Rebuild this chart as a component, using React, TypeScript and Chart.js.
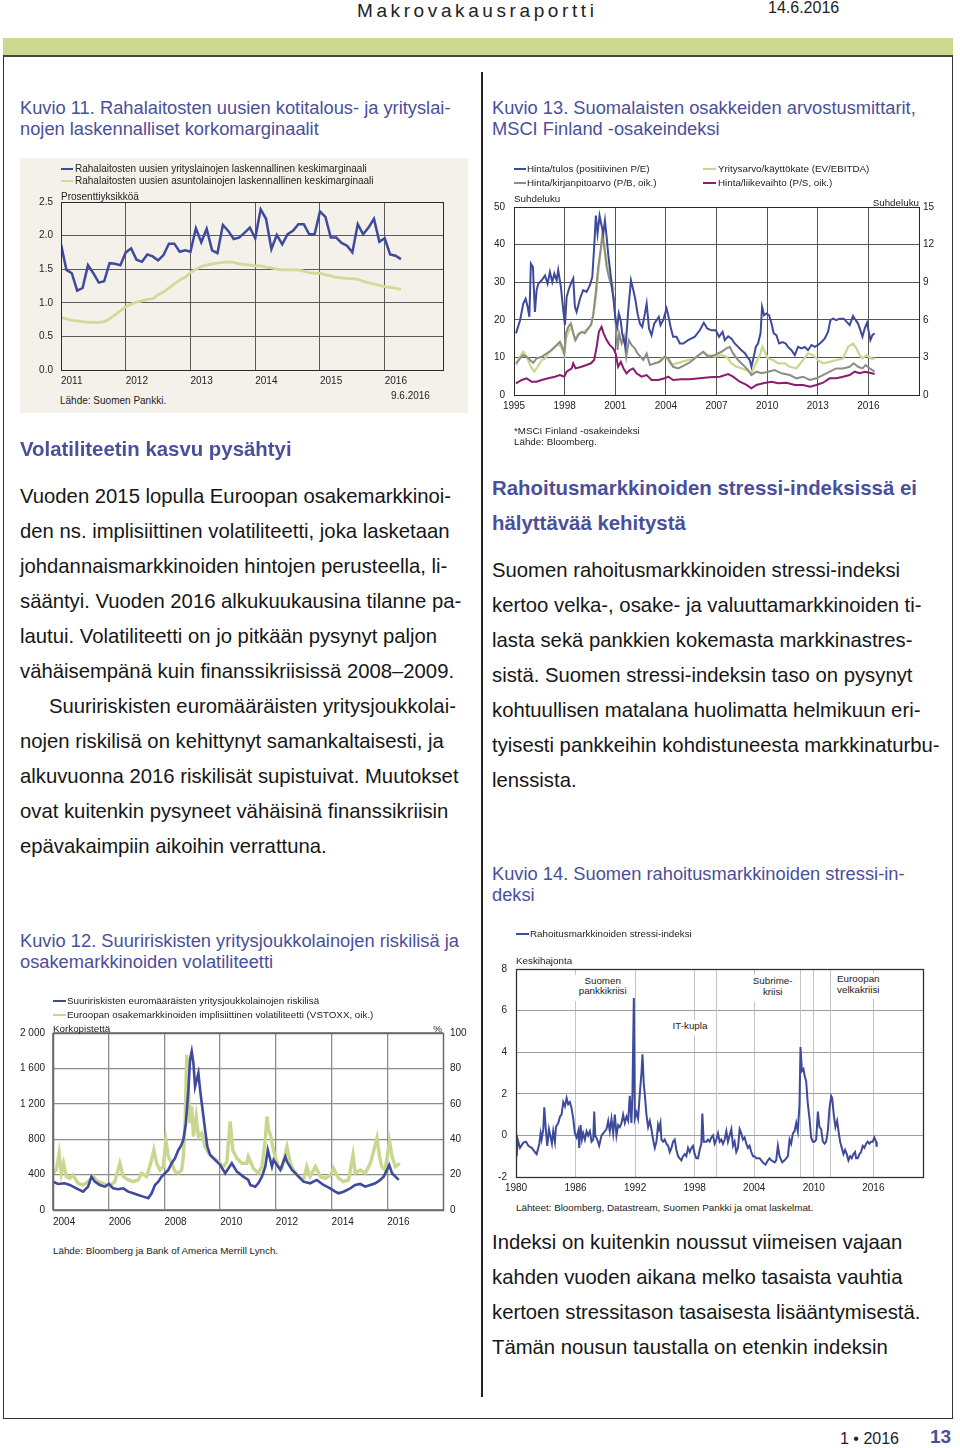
import React, { useEffect, useRef } from "react";
import { Chart, registerables } from "chart.js";

Chart.register(...registerables);

const FONT = '"Liberation Sans", Arial, Helvetica, sans-serif';
const BLUE = "#3e4a9b";
const GREEN = "#c9d78e";
const GRAY = "#8d8d85";
const MAGENTA = "#8c1c6e";
const TITLE_BLUE = "#4a4f9c";
const INK = "#161616";

// ---------------- Kuvio 11 ----------------
const k11Start = 2011;
const k11YearTicks = [2011, 2012, 2013, 2014, 2015, 2016];
const k11ValueTicks = [0, 0.5, 1, 1.5, 2, 2.5];
const k11Corporate = [
  1.87, 1.49, 1.44, 1.18, 1.22, 1.56, 1.44, 1.3, 1.32, 1.59, 1.58, 1.56,
  1.75, 1.81, 1.64, 1.61, 1.72, 1.69, 1.63, 1.71, 1.88, 1.88, 1.76, 1.78,
  1.76, 2.11, 1.9, 2.1, 1.78, 1.74, 2.16, 2.07, 1.95, 1.97, 2.04, 2.12,
  1.96, 2.39, 2.25, 1.8, 2.01, 1.87, 2.02, 2.07, 2.17, 2.17, 2.02, 2.02,
  2.36, 2.28, 1.97, 1.97, 1.89, 1.85, 1.75, 2.17, 2.02, 2.12, 2.25, 1.91,
  1.96, 1.72, 1.7, 1.65,
];
const k11Housing = [
  0.78, 0.76, 0.74, 0.73, 0.72, 0.71, 0.71, 0.71, 0.72, 0.76, 0.82, 0.88,
  0.94, 0.98, 1.01, 1.03, 1.05, 1.06, 1.12, 1.16, 1.22, 1.28, 1.34, 1.38,
  1.45, 1.5, 1.54, 1.56, 1.58, 1.59, 1.6, 1.61, 1.6, 1.58, 1.57, 1.56,
  1.55, 1.55, 1.53, 1.52, 1.5, 1.49, 1.49, 1.49, 1.49, 1.47, 1.45, 1.44,
  1.44, 1.42, 1.4, 1.38, 1.37, 1.36, 1.36, 1.35, 1.32, 1.3, 1.28, 1.26,
  1.24, 1.23, 1.22, 1.2,
];

// ---------------- Kuvio 13 ----------------
const k13YearTicks = [1995, 1998, 2001, 2004, 2007, 2010, 2013, 2016];
const k13LeftTicks = [0, 10, 20, 30, 40, 50];
const k13RightTicks = [0, 3, 6, 9, 12, 15];
const k13PriceEarnings = [
  [1995.12, 16.4], [1995.36, 19.9], [1995.55, 24.3], [1995.69, 25.6], [1995.81, 23.4], [1995.91, 20.8],
  [1996.0, 34.9], [1996.12, 34.0], [1996.24, 22.1], [1996.34, 27.9], [1996.44, 29.6], [1996.64, 30.5],
  [1996.84, 31.8], [1996.99, 29.6], [1997.13, 32.7], [1997.27, 30.0], [1997.39, 32.3], [1997.53, 30.5],
  [1997.62, 33.2], [1997.78, 28.7], [1997.92, 22.5], [1998.02, 18.6], [1998.12, 26.1], [1998.26, 28.3],
  [1998.37, 29.6], [1998.51, 31.0], [1998.61, 23.4], [1998.71, 22.1], [1998.91, 25.6], [1999.1, 27.9],
  [1999.3, 27.4], [1999.5, 29.2], [1999.64, 31.4], [1999.75, 39.3], [1999.85, 47.7], [1999.95, 42.9],
  [2000.07, 47.7], [2000.19, 45.1], [2000.29, 42.9], [2000.39, 46.4], [2000.49, 42.0], [2000.58, 37.6],
  [2000.74, 31.4], [2000.88, 26.1], [2001.02, 19.9], [2001.12, 18.1], [2001.21, 21.7], [2001.32, 19.9],
  [2001.41, 16.4], [2001.51, 14.6], [2001.61, 12.8], [2001.77, 22.5], [2001.93, 30.5], [2002.07, 27.9],
  [2002.2, 25.2], [2002.32, 21.7], [2002.46, 19.0], [2002.6, 18.1], [2002.76, 21.7], [2002.86, 24.3],
  [2003.0, 17.7], [2003.15, 15.9], [2003.31, 19.0], [2003.45, 19.9], [2003.58, 20.8], [2003.68, 18.6],
  [2003.84, 19.9], [2004.04, 23.0], [2004.14, 21.2], [2004.28, 18.1], [2004.43, 15.5], [2004.63, 15.5],
  [2004.83, 13.7], [2005.03, 13.7], [2005.32, 14.6], [2005.72, 15.5], [2006.01, 17.2], [2006.25, 19.2],
  [2006.45, 17.7], [2006.7, 17.2], [2006.96, 17.2], [2007.15, 15.5], [2007.36, 16.8], [2007.49, 14.6],
  [2007.69, 15.6], [2007.89, 15.0], [2008.08, 13.7], [2008.28, 12.8], [2008.48, 11.9], [2008.68, 11.1],
  [2008.81, 10.2], [2008.97, 9.3], [2009.07, 7.5], [2009.21, 10.2], [2009.33, 12.8], [2009.46, 13.7],
  [2009.61, 16.4], [2009.7, 23.4], [2009.82, 21.2], [2009.96, 21.7], [2010.12, 21.2], [2010.26, 19.0],
  [2010.39, 16.4], [2010.55, 15.9], [2010.71, 13.7], [2010.91, 14.1], [2011.1, 13.7], [2011.24, 12.8],
  [2011.44, 11.9], [2011.64, 10.6], [2011.83, 12.8], [2012.03, 12.4], [2012.23, 12.8], [2012.42, 11.9],
  [2012.63, 13.3], [2012.82, 12.8], [2013.02, 13.3], [2013.22, 14.1], [2013.41, 15.0], [2013.61, 16.8],
  [2013.75, 19.9], [2013.91, 20.3], [2014.1, 19.9], [2014.3, 20.3], [2014.54, 20.3], [2014.73, 19.4],
  [2014.89, 18.6], [2015.09, 21.0], [2015.25, 19.9], [2015.39, 19.0], [2015.53, 17.2], [2015.65, 15.5],
  [2015.78, 17.7], [2015.92, 19.2], [2016.04, 16.4], [2016.12, 14.6], [2016.24, 15.9], [2016.37, 16.4],
];
const k13EvEbitda = [
  [1995.12, 8.0], [1995.36, 10.2], [1995.55, 11.5], [1995.75, 10.2], [1996.0, 7.5], [1996.2, 6.2],
  [1996.4, 7.5], [1996.64, 9.3], [1996.84, 9.7], [1997.03, 11.1], [1997.33, 12.4], [1997.62, 13.7],
  [1997.82, 12.5], [1997.98, 10.6], [1998.08, 15.0], [1998.22, 16.8], [1998.42, 18.1], [1998.61, 14.6],
  [1998.81, 16.4], [1999.1, 16.8], [1999.4, 17.7], [1999.6, 19.0], [1999.75, 22.5], [1999.9, 27.9],
  [2000.03, 34.0], [2000.19, 40.2], [2000.29, 42.4], [2000.39, 38.5], [2000.55, 34.0], [2000.68, 32.3],
  [2000.82, 29.6], [2000.94, 27.9], [2002.0, null], [2003.5, 8.4], [2003.74, 9.7], [2003.94, 10.2],
  [2004.14, 9.3], [2004.33, 8.0], [2004.63, 8.4], [2004.93, 8.8], [2005.32, 9.3], [2005.62, 9.5],
  [2005.82, 10.2], [2006.21, 11.5], [2006.5, 10.6], [2006.9, 10.2], [2007.3, 10.6], [2007.59, 10.2],
  [2007.89, 8.4], [2008.18, 7.5], [2008.48, 7.1], [2008.78, 6.6], [2009.07, 5.8], [2009.33, 8.4],
  [2009.57, 10.6], [2009.72, 12.8], [2009.86, 11.5], [2010.06, 9.7], [2010.35, 9.3], [2010.65, 8.4],
  [2011.05, 8.4], [2011.34, 7.5], [2011.74, 7.1], [2012.13, 9.3], [2012.42, 11.1], [2012.72, 10.6],
  [2013.02, 9.3], [2013.31, 8.4], [2013.71, 8.8], [2014.1, 9.3], [2014.5, 9.7], [2014.8, 12.8],
  [2015.09, 13.7], [2015.29, 12.4], [2015.49, 10.6], [2015.65, 9.7], [2015.89, 10.6], [2016.18, 9.7],
  [2016.37, 9.7],
];
const k13PriceBook = [
  [1995.12, 2.53], [1995.36, 2.92], [1995.55, 3.19], [1995.75, 3.05], [1995.95, 2.79], [1996.14, 2.57],
  [1996.34, 2.92], [1996.64, 3.05], [1996.94, 3.32], [1997.23, 3.59], [1997.53, 3.98], [1997.72, 4.25],
  [1997.86, 3.85], [1997.98, 3.32], [1998.08, 4.92], [1998.22, 5.44], [1998.37, 5.71], [1998.51, 4.92],
  [1998.65, 4.38], [1998.81, 4.78], [1999.0, 5.04], [1999.2, 4.92], [1999.4, 5.31], [1999.56, 5.58],
  [1999.69, 6.37], [1999.84, 8.1], [1999.99, 10.2], [2000.13, 11.55], [2000.23, 12.75], [2000.35, 11.8],
  [2000.49, 10.2], [2000.62, 9.43], [2000.78, 8.63], [2000.94, 7.57], [2001.06, 4.92], [2001.14, 3.59],
  [2001.23, 4.92], [2001.38, 4.12], [2001.51, 4.65], [2001.65, 3.05], [2001.81, 4.38], [2001.97, 3.98],
  [2002.16, 3.72], [2002.32, 3.32], [2002.5, 3.05], [2002.66, 2.79], [2002.86, 3.32], [2003.05, 2.39],
  [2003.35, 2.53], [2003.64, 2.65], [2003.94, 3.05], [2004.14, 2.92], [2004.43, 2.25], [2004.73, 2.12],
  [2005.12, 2.39], [2005.42, 2.6], [2005.82, 3.05], [2006.21, 3.45], [2006.5, 3.05], [2006.9, 3.19],
  [2007.3, 3.45], [2007.59, 3.72], [2007.79, 3.85], [2007.98, 3.32], [2008.28, 2.79], [2008.58, 2.39],
  [2008.87, 1.99], [2009.07, 1.59], [2009.37, 1.86], [2009.66, 1.73], [2010.06, 1.86], [2010.45, 1.99],
  [2010.85, 1.73], [2011.34, 1.59], [2011.74, 1.33], [2012.13, 1.46], [2012.53, 1.2], [2012.92, 1.33],
  [2013.31, 1.59], [2013.71, 1.86], [2014.1, 2.12], [2014.5, 2.12], [2014.89, 2.25], [2015.13, 2.53],
  [2015.39, 2.25], [2015.65, 2.12], [2015.84, 2.39], [2016.08, 2.12], [2016.37, 1.86],
];
const k13PriceSales = [
  [1995.12, 0.93], [1995.46, 1.2], [1995.75, 1.33], [1996.05, 1.06], [1996.34, 1.06], [1996.64, 1.2],
  [1997.03, 1.33], [1997.43, 1.46], [1997.72, 1.59], [1997.98, 1.46], [1998.12, 1.86], [1998.42, 2.12],
  [1998.51, 2.53], [1998.65, 2.12], [1999.0, 2.25], [1999.3, 2.39], [1999.56, 2.53], [1999.75, 2.79],
  [1999.9, 3.85], [2000.03, 5.04], [2000.19, 5.44], [2000.31, 4.92], [2000.49, 4.38], [2000.68, 3.98],
  [2000.88, 3.72], [2001.02, 3.32], [2001.17, 2.25], [2001.33, 2.65], [2001.49, 2.12], [2001.67, 1.73],
  [2001.87, 1.99], [2002.06, 2.12], [2002.26, 1.73], [2002.56, 1.46], [2002.86, 1.59], [2003.15, 1.2],
  [2003.54, 1.2], [2003.94, 1.33], [2004.14, 1.46], [2004.43, 1.2], [2004.93, 1.25], [2005.42, 1.25],
  [2006.01, 1.33], [2006.6, 1.41], [2007.2, 1.46], [2007.69, 1.67], [2007.98, 1.46], [2008.38, 1.06],
  [2008.78, 0.8], [2009.07, 0.53], [2009.37, 0.8], [2009.76, 0.93], [2010.26, 1.06], [2010.65, 0.93],
  [2011.15, 0.98], [2011.64, 0.8], [2012.13, 0.8], [2012.53, 0.66], [2012.92, 0.8], [2013.31, 0.98],
  [2013.71, 1.33], [2014.1, 1.33], [2014.5, 1.46], [2014.89, 1.59], [2015.19, 1.86], [2015.49, 1.73],
  [2015.78, 1.86], [2016.08, 1.78], [2016.37, 1.67],
];

// ---------------- Kuvio 12 ----------------
const k12YearTicks = [2004, 2006, 2008, 2010, 2012, 2014, 2016];
const k12LeftTicks = [0, 400, 800, 1200, 1600, 2000];
const k12RightTicks = [0, 20, 40, 60, 80, 100];
const k12HighYield = [
  [2004.0, 320], [2004.18, 294], [2004.42, 302], [2004.6, 283], [2004.84, 245], [2005.08, 207],
  [2005.26, 264], [2005.38, 377], [2005.5, 320], [2005.68, 283], [2005.86, 264], [2006.01, 294],
  [2006.16, 245], [2006.34, 234], [2006.52, 245], [2006.7, 207], [2006.88, 189], [2007.06, 170],
  [2007.24, 151], [2007.42, 132], [2007.54, 189], [2007.66, 283], [2007.78, 320], [2007.9, 377],
  [2008.02, 415], [2008.14, 453], [2008.26, 528], [2008.38, 585], [2008.5, 679], [2008.58, 717],
  [2008.68, 792], [2008.77, 981], [2008.86, 1358], [2008.92, 1698], [2008.98, 1792], [2009.04, 1660],
  [2009.1, 1396], [2009.16, 1472], [2009.22, 1547], [2009.28, 1358], [2009.37, 1132], [2009.46, 906],
  [2009.54, 717], [2009.64, 623], [2009.82, 566], [2010.0, 509], [2010.18, 415], [2010.3, 472],
  [2010.42, 528], [2010.6, 434], [2010.83, 377], [2011.01, 340], [2011.08, 283], [2011.26, 264],
  [2011.37, 302], [2011.5, 377], [2011.62, 490], [2011.71, 679], [2011.77, 604], [2011.86, 490],
  [2011.92, 566], [2012.16, 453], [2012.34, 604], [2012.4, 547], [2012.58, 453], [2012.76, 396],
  [2012.99, 320], [2013.23, 302], [2013.47, 340], [2013.71, 283], [2013.95, 245], [2014.13, 207],
  [2014.25, 189], [2014.43, 207], [2014.67, 245], [2014.85, 283], [2015.03, 294], [2015.21, 264],
  [2015.39, 283], [2015.57, 302], [2015.75, 340], [2015.87, 377], [2015.99, 453], [2016.07, 509],
  [2016.17, 415], [2016.29, 377], [2016.41, 340],
];
const k12Vstoxx = [
  [2004.0, 20.8], [2004.12, 22.6], [2004.22, 32.1], [2004.3, 20.8], [2004.38, 26.4], [2004.48, 18.9],
  [2004.6, 17.9], [2004.72, 19.8], [2004.9, 15.1], [2005.08, 14.2], [2005.26, 16], [2005.44, 18.9],
  [2005.62, 16], [2005.8, 15.1], [2006.01, 13.2], [2006.22, 16], [2006.4, 26.4], [2006.52, 18.9],
  [2006.7, 17], [2006.88, 16], [2007.06, 17], [2007.18, 20.8], [2007.36, 18.9], [2007.54, 28.3],
  [2007.62, 34], [2007.72, 26.4], [2007.84, 22.6], [2007.96, 24.5], [2008.05, 39.6], [2008.14, 30.2],
  [2008.26, 26.4], [2008.38, 21.7], [2008.5, 20.8], [2008.62, 22.6], [2008.68, 30.2], [2008.74, 49],
  [2008.8, 87.7], [2008.86, 67.9], [2008.92, 49], [2008.98, 58.5], [2009.04, 41.5], [2009.14, 52.8],
  [2009.22, 41.5], [2009.34, 43.4], [2009.46, 35.8], [2009.58, 32.1], [2009.76, 29.3], [2009.94, 27.3],
  [2010.12, 24.5], [2010.24, 27.3], [2010.36, 50], [2010.45, 34], [2010.6, 29.3], [2010.78, 26.4],
  [2010.96, 26.4], [2011.01, 30.2], [2011.19, 23.6], [2011.37, 20.8], [2011.5, 24.5], [2011.62, 39.6],
  [2011.68, 52.8], [2011.74, 45.3], [2011.82, 41.5], [2011.89, 35.8], [2011.97, 30.2], [2012.09, 24.5],
  [2012.22, 23.6], [2012.4, 35.8], [2012.52, 26.4], [2012.63, 22.6], [2012.81, 18.9], [2012.99, 17],
  [2013.11, 24.5], [2013.23, 18.9], [2013.42, 24.5], [2013.6, 18.9], [2013.78, 17.9], [2013.96, 19.8],
  [2014.07, 23.6], [2014.25, 17.9], [2014.43, 16], [2014.61, 17], [2014.77, 31.1], [2014.85, 20.8],
  [2015.03, 22.6], [2015.21, 20.8], [2015.39, 26.4], [2015.49, 32.1], [2015.63, 40.6], [2015.72, 30.2],
  [2015.8, 24.5], [2015.92, 22.6], [2016.08, 38.7], [2016.17, 30.2], [2016.29, 24.5], [2016.45, 26.4],
];

// ---------------- Kuvio 14 ----------------
const k14YearTicks = [1980, 1986, 1992, 1998, 2004, 2010, 2016];
const k14ValueTicks = [-2, 0, 2, 4, 6, 8];
const k14MarkerYears = [2000.18, 2008.56, 2011.65];
const k14Stress = [
  [1980.07, -1.0], [1980.17, -0.2], [1980.4, -0.6], [1980.74, -0.35], [1981.01, -0.3], [1981.24, -0.5],
  [1981.58, -0.6], [1981.91, -0.8], [1982.08, -0.9], [1982.35, -0.4], [1982.48, 0.1], [1982.58, -0.2],
  [1982.75, 0.3], [1982.85, 1.35], [1983.02, 0.2], [1983.15, -0.5], [1983.32, 0.3], [1983.49, -0.1],
  [1983.62, -0.4], [1983.75, 0.2], [1983.92, -0.3], [1984.02, 0.4], [1984.26, 0.6], [1984.43, 0.9],
  [1984.59, 1.0], [1984.76, 1.6], [1984.93, 1.4], [1985.1, 1.8], [1985.26, 1.5], [1985.43, 1.6],
  [1985.6, 1.3], [1985.77, 0.8], [1985.93, 0.1], [1986.1, -0.1], [1986.27, 0.2], [1986.37, -0.6],
  [1986.5, 0.5], [1986.64, -0.2], [1986.77, 0.1], [1986.94, -0.2], [1987.11, 0.2], [1987.27, 0.0],
  [1987.44, 0.2], [1987.61, -0.3], [1987.78, -0.2], [1987.88, 1.15], [1987.98, 0.0], [1988.18, -0.2],
  [1988.38, -0.5], [1988.62, 0.0], [1988.78, 0.1], [1989.12, 0.3], [1989.29, 0.7], [1989.45, 0.2],
  [1989.62, 0.8], [1989.79, 0.1], [1989.96, 1.0], [1990.12, 0.0], [1990.29, 0.5], [1990.46, 0.4],
  [1990.63, 0.6], [1990.79, 1.0], [1990.96, 0.6], [1991.13, 0.9], [1991.3, 0.7], [1991.46, 1.9],
  [1991.63, 0.6], [1991.73, 2.0], [1991.87, 6.6], [1991.97, 0.8], [1992.14, 1.1], [1992.3, 0.8],
  [1992.47, 2.0], [1992.64, 3.0], [1992.74, 3.9], [1992.87, 2.5], [1992.97, 2.0], [1993.14, 1.0],
  [1993.31, 0.4], [1993.48, 0.7], [1993.64, 0.3], [1993.81, -0.2], [1993.98, -0.6], [1994.15, -0.3],
  [1994.31, 0.5], [1994.41, 0.3], [1994.55, 0.6], [1994.65, -0.2], [1994.82, -0.3], [1994.98, -0.2],
  [1995.15, -0.4], [1995.32, -0.5], [1995.49, -0.8], [1995.66, -0.6], [1995.82, -0.3], [1995.99, -0.2],
  [1996.16, -0.7], [1996.33, -1.0], [1996.49, -1.1], [1996.66, -1.2], [1996.83, -1.0], [1997.0, -0.9],
  [1997.16, -1.0], [1997.33, -0.6], [1997.5, -0.8], [1997.67, -0.6], [1997.83, -0.5], [1998.0, -0.9],
  [1998.17, -1.1], [1998.34, -1.1], [1998.5, -0.7], [1998.67, -0.4], [1998.77, 1.05], [1998.91, -0.3],
  [1999.18, -0.3], [1999.34, -0.2], [1999.51, -0.3], [1999.68, -0.1], [1999.85, 0.0], [2000.01, -0.4],
  [2000.18, -0.2], [2000.35, 0.1], [2000.52, -0.3], [2000.68, -0.2], [2000.85, -0.4], [2001.02, -0.2],
  [2001.19, 0.2], [2001.35, -0.3], [2001.52, 0.0], [2001.69, 0.3], [2001.86, -0.5], [2002.02, -0.3],
  [2002.19, -0.8], [2002.36, -0.6], [2002.53, 0.3], [2002.69, 0.1], [2002.86, -0.2], [2003.03, -0.1],
  [2003.2, -0.4], [2003.37, -0.6], [2003.53, -0.5], [2003.7, -0.8], [2003.87, -1.0], [2004.04, -1.0],
  [2004.2, -1.1], [2004.54, -1.1], [2004.71, -1.2], [2004.87, -1.3], [2005.14, -1.4], [2005.38, -1.2],
  [2005.54, -1.1], [2005.71, -1.2], [2006.05, -1.3], [2006.21, -1.2], [2006.38, -0.5], [2006.55, -1.0],
  [2006.82, -1.3], [2007.05, -1.2], [2007.22, -1.1], [2007.39, -1.0], [2007.56, -0.2], [2007.72, -0.4],
  [2007.89, 0.1], [2008.06, 0.2], [2008.23, 0.6], [2008.39, 0.2], [2008.56, 1.5], [2008.66, 4.25],
  [2008.8, 3.1], [2008.96, 3.2], [2009.06, 2.9], [2009.23, 2.6], [2009.4, 1.5], [2009.57, 0.8],
  [2009.73, -0.1], [2009.9, -0.3], [2010.07, -0.3], [2010.24, -0.2], [2010.41, 1.15], [2010.57, 0.4],
  [2010.74, 0.3], [2010.91, -0.3], [2011.08, -0.4], [2011.24, -0.3], [2011.41, 0.2], [2011.58, 1.3],
  [2011.75, 1.9], [2011.85, 1.8], [2012.01, 1.0], [2012.18, 0.4], [2012.35, 0.7], [2012.52, 0.1],
  [2012.65, -0.3], [2012.82, -0.6], [2012.99, -0.9], [2013.15, -0.7], [2013.32, -0.9], [2013.49, -1.2],
  [2013.66, -1.0], [2013.82, -1.1], [2013.99, -0.9], [2014.16, -0.8], [2014.26, -1.1], [2014.43, -1.1],
  [2014.6, -0.9], [2014.76, -0.8], [2014.93, -0.5], [2015.1, -0.6], [2015.27, -0.4], [2015.43, -0.3],
  [2015.6, -0.4], [2015.77, -0.3], [2015.94, -0.3], [2016.1, -0.1], [2016.27, -0.3], [2016.34, -0.55],
];

// ---------------- helpers ----------------
const pairs = (arr: (number | null)[][]) => arr.map((p) => ({ x: p[0] as number, y: p[1] }));
const monthly = (start: number, arr: number[]) => arr.map((v, i) => ({ x: start + i / 12, y: v }));

const framePlugin = {
  id: "frame",
  defaults: { color: "#222", width: 1 },
  afterDatasetsDraw(chart: any, _a: any, opts: any) {
    const a = chart.chartArea;
    const ctx = chart.ctx;
    ctx.save();
    ctx.strokeStyle = opts.color;
    ctx.lineWidth = opts.width;
    const l = Math.round(a.left) + 0.5;
    const t = Math.round(a.top) + 0.5;
    const r = Math.round(a.right) + 0.5;
    const b = Math.round(a.bottom) + 0.5;
    ctx.strokeRect(l, t, r - l, b - t);
    ctx.restore();
  },
};

const markerPlugin = {
  id: "markers14",
  beforeDatasetsDraw(chart: any) {
    const xs = chart.scales.x;
    const a = chart.chartArea;
    const ctx = chart.ctx;
    ctx.save();
    ctx.strokeStyle = "#c4c4c4";
    ctx.lineWidth = 1;
    k14MarkerYears.forEach((v) => {
      const px = Math.round(xs.getPixelForValue(v)) + 0.5;
      ctx.beginPath();
      ctx.moveTo(px, a.top);
      ctx.lineTo(px, a.bottom);
      ctx.stroke();
    });
    ctx.restore();
  },
};

const tickFont = { family: FONT, size: 10 };

function xAxis(min: number, max: number, ticks: number[], o: any) {
  return {
    type: "linear",
    position: "bottom",
    min,
    max,
    afterBuildTicks: (s: any) => {
      s.ticks = ticks.map((v) => ({ value: v }));
    },
    afterFit: (s: any) => {
      s.height = o.h;
    },
    grid: { color: o.grid, lineWidth: o.gw ?? 1, drawTicks: false },
    border: { display: false },
    ticks: {
      autoSkip: false,
      maxRotation: 0,
      padding: o.pad,
      align: o.align ?? "center",
      color: "#222",
      font: tickFont,
      callback: (v: number) => String(v),
    },
  };
}

function yAxis(min: number, max: number, ticks: number[], o: any) {
  return {
    type: "linear",
    position: o.pos ?? "left",
    min,
    max,
    afterBuildTicks: (s: any) => {
      s.ticks = ticks.map((v) => ({ value: v }));
    },
    afterFit: (s: any) => {
      s.width = o.w;
    },
    grid: o.grid ? { color: o.grid, lineWidth: o.gw ?? 1, drawTicks: false } : { display: false, drawTicks: false },
    border: { display: false },
    ticks: {
      autoSkip: false,
      padding: o.pad,
      color: "#222",
      font: tickFont,
      callback: o.fmt ?? ((v: number) => String(v)),
    },
  };
}

// Chart.js reserves (half a label + tick padding) above the plot for the y-axis
// labels, so each canvas is placed that much above the wanted plot top.
const baseOptions = (padRight: number) => ({
  animation: false,
  responsive: false,
  events: [],
  layout: { padding: { top: 0, right: padRight, left: 0, bottom: 0 } },
});

const line = (data: any[], color: string, width: number, axis = "y") => ({
  data,
  borderColor: color,
  borderWidth: width,
  pointRadius: 0,
  tension: 0,
  fill: false,
  spanGaps: false,
  yAxisID: axis,
});

function buildK11(): any {
  return {
    type: "line",
    data: {
      datasets: [
        line(monthly(k11Start, k11Corporate), BLUE, 2.5),
        line(monthly(k11Start, k11Housing), "#cfdb98", 2.8),
      ],
    },
    options: {
      ...baseOptions(27),
      plugins: { legend: { display: false }, tooltip: { enabled: false }, frame: { color: "#2a2a2a", width: 1 } },
      scales: {
        x: xAxis(2011, 2016.9, k11YearTicks, { h: 25, pad: 5, align: "start", grid: "#5a5a5a" }),
        y: yAxis(0, 2.5, k11ValueTicks, { w: 41, pad: 8, grid: "#5a5a5a", fmt: (v: number) => v.toFixed(1) }),
      },
    },
    plugins: [framePlugin],
  };
}

function buildK13(): any {
  return {
    type: "line",
    data: {
      datasets: [
        line(pairs(k13PriceEarnings), BLUE, 2),
        line(pairs(k13PriceSales), MAGENTA, 2, "y2"),
        line(pairs(k13PriceBook), GRAY, 2, "y2"),
        line(pairs(k13EvEbitda), GREEN, 2.2),
      ],
    },
    options: {
      ...baseOptions(0),
      plugins: { legend: { display: false }, tooltip: { enabled: false }, frame: { color: "#2a2a2a", width: 1 } },
      scales: {
        x: xAxis(1995, 2019, k13YearTicks, { h: 20, pad: 5, grid: "#555" }),
        y: yAxis(0, 50, k13LeftTicks, { w: 24, pad: 9, grid: "#555" }),
        y2: yAxis(0, 15, k13RightTicks, { w: 33, pad: 4, pos: "right" }),
      },
    },
    plugins: [framePlugin],
  };
}

const thousands = (v: number) =>
  v >= 1000 ? `${Math.floor(v / 1000)} ${String(v % 1000).padStart(3, "0")}` : String(v);

function buildK12(): any {
  return {
    type: "line",
    data: {
      datasets: [
        line(pairs(k12HighYield), BLUE, 2.6),
        line(pairs(k12Vstoxx), GREEN, 3.4, "y2"),
      ],
    },
    options: {
      ...baseOptions(0),
      plugins: { legend: { display: false }, tooltip: { enabled: false }, frame: { color: "#6a6a6a", width: 1.5 } },
      scales: {
        x: xAxis(2004, 2018, k12YearTicks, { h: 25, pad: 6, align: "start", grid: "#8c8c8c", gw: 1.3 }),
        y: yAxis(0, 2000, k12LeftTicks, { w: 53, pad: 8, grid: "#8c8c8c", gw: 1.3, fmt: thousands }),
        y2: yAxis(0, 100, k12RightTicks, { w: 37, pad: 7, pos: "right" }),
      },
    },
    plugins: [framePlugin],
  };
}

function buildK14(): any {
  return {
    type: "line",
    data: {
      datasets: [line(pairs(k14Stress), BLUE, 2)],
    },
    options: {
      ...baseOptions(27),
      plugins: { legend: { display: false }, tooltip: { enabled: false }, frame: { color: "#333", width: 1.3 } },
      scales: {
        x: xAxis(1980, 2021, k14YearTicks, { h: 23, pad: 5, grid: "#c4c4c4" }),
        y: yAxis(-2, 8, k14ValueTicks, { w: 26, pad: 9, grid: "#9e9e9e" }),
      },
    },
    plugins: [framePlugin, markerPlugin],
  };
}

function ChartBox({ left, top, width, height, build }: { left: number; top: number; width: number; height: number; build: () => any }) {
  const ref = useRef<HTMLCanvasElement | null>(null);
  useEffect(() => {
    if (!ref.current) return;
    const chart = new Chart(ref.current, build());
    return () => chart.destroy();
  }, []);
  return (
    <canvas
      ref={ref}
      width={width}
      height={height}
      style={{ position: "absolute", left, top, width, height }}
    />
  );
}

type TP = {
  x?: number;
  r?: number;
  cx?: number;
  y: number;
  s?: number;
  c?: string;
  b?: boolean;
  ls?: number;
  children: React.ReactNode;
};

function Txt({ x, r, cx, y, s = 10, c = "#222", b = false, ls = 0, children }: TP) {
  const st: React.CSSProperties = {
    position: "absolute",
    top: y - s * 0.6,
    fontSize: s,
    lineHeight: `${s * 1.2}px`,
    color: c,
    fontWeight: b ? "bold" : "normal",
    whiteSpace: "nowrap",
    letterSpacing: ls,
    fontFamily: FONT,
  };
  if (x !== undefined) st.left = x;
  if (r !== undefined) st.right = 960 - r;
  if (cx !== undefined) {
    st.left = cx;
    st.transform = "translateX(-50%)";
  }
  return <div style={st}>{children}</div>;
}

function Swatch({ x, y, c, w = 12 }: { x: number; y: number; c: string; w?: number }) {
  return <div style={{ position: "absolute", left: x, top: y - 1, width: w, height: 2.2, background: c }} />;
}

function Tag({ cx, y, lines }: { cx: number; y: number; lines: string[] }) {
  return (
    <div
      style={{
        position: "absolute",
        left: cx,
        top: y - 6.4,
        transform: "translateX(-50%)",
        background: "#fff",
        padding: "1px 4px 4px",
        fontSize: 9.8,
        lineHeight: "10.7px",
        textAlign: "center",
        color: "#222",
        whiteSpace: "nowrap",
        fontFamily: FONT,
      }}
    >
      {lines.map((l) => (
        <div key={l}>{l}</div>
      ))}
    </div>
  );
}

const leftBody = [
  "Vuoden 2015 lopulla Euroopan osakemarkkinoi-",
  "den ns. implisiittinen volatiliteetti, joka lasketaan",
  "johdannaismarkkinoiden hintojen perusteella, li-",
  "sääntyi. Vuoden 2016 alkukuukausina tilanne pa-",
  "lautui. Volatiliteetti on jo pitkään pysynyt paljon",
  "vähäisempänä kuin finanssikriisissä 2008–2009.",
  "Suuririskisten euromääräisten yritysjoukkolai-",
  "nojen riskilisä on kehittynyt samankaltaisesti, ja",
  "alkuvuonna 2016 riskilisät supistuivat. Muutokset",
  "ovat kuitenkin pysyneet vähäisinä finanssikriisin",
  "epävakaimpiin aikoihin verrattuna.",
];

const rightBody = [
  "Suomen rahoitusmarkkinoiden stressi-indeksi",
  "kertoo velka-, osake- ja valuuttamarkkinoiden ti-",
  "lasta sekä pankkien kokemasta markkinastres-",
  "sistä. Suomen stressi-indeksin taso on pysynyt",
  "kohtuullisen matalana huolimatta helmikuun eri-",
  "tyisesti pankkeihin kohdistuneesta markkinaturbu-",
  "lenssista.",
];

const rightBottom = [
  "Indeksi on kuitenkin noussut viimeisen vajaan",
  "kahden vuoden aikana melko tasaista vauhtia",
  "kertoen stressitason tasaisesta lisääntymisestä.",
  "Tämän nousun taustalla on etenkin indeksin",
];

const BODY = 20.3;
const HEAD = 18.3;
const SMALL = 9.8;

export default function App() {
  return (
    <div
      style={{
        position: "absolute",
        left: 0,
        top: 0,
        width: 960,
        height: 1448,
        background: "#fff",
        overflow: "hidden",
        fontFamily: FONT,
      }}
    >
      {/* header */}
      <Txt x={357} y={11} s={19} c="#222" ls={3.6}>Makrovakausraportti</Txt>
      <Txt x={768} y={8} s={16} c="#222">14.6.2016</Txt>
      <div style={{ position: "absolute", left: 3, top: 38, width: 950, height: 17, background: "#cdd88f" }} />
      <div
        style={{
          position: "absolute",
          left: 3,
          top: 55,
          width: 948,
          height: 1361,
          borderLeft: "1px solid #333",
          borderRight: "1px solid #333",
          borderBottom: "1px solid #333",
          borderTop: "2px solid #444",
        }}
      />
      <div style={{ position: "absolute", left: 481, top: 72, width: 1.5, height: 1325, background: "#222" }} />

      {/* titles */}
      <Txt x={20} y={108} s={HEAD} c={TITLE_BLUE}>Kuvio 11. Rahalaitosten uusien kotitalous- ja yrityslai-</Txt>
      <Txt x={20} y={129} s={HEAD} c={TITLE_BLUE}>nojen laskennalliset korkomarginaalit</Txt>
      <Txt x={492} y={108} s={HEAD} c={TITLE_BLUE}>Kuvio 13. Suomalaisten osakkeiden arvostusmittarit,</Txt>
      <Txt x={492} y={129} s={HEAD} c={TITLE_BLUE}>MSCI Finland -osakeindeksi</Txt>

      {/* Kuvio 11 */}
      <div style={{ position: "absolute", left: 20, top: 158, width: 448, height: 255, background: "#f3f1ea" }} />
      <ChartBox left={20} top={188} width={450} height={207} build={buildK11} />
      <Swatch x={61} y={169} c={BLUE} />
      <Txt x={75} y={169}>Rahalaitosten uusien yrityslainojen laskennallinen keskimarginaali</Txt>
      <Swatch x={61} y={181} c="#cfdb98" />
      <Txt x={75} y={181}>Rahalaitosten uusien asuntolainojen laskennallinen keskimarginaali</Txt>
      <Txt x={61} y={197}>Prosenttiyksikköä</Txt>
      <Txt x={60} y={401}>Lähde: Suomen Pankki.</Txt>
      <Txt x={391} y={396}>9.6.2016</Txt>

      {/* Kuvio 13 */}
      <ChartBox left={490} top={192} width={462} height={223} build={buildK13} />
      <Swatch x={514} y={169} c={BLUE} />
      <Txt x={527} y={169} s={SMALL}>Hinta/tulos (positiivinen P/E)</Txt>
      <Swatch x={514} y={183} c={GRAY} />
      <Txt x={527} y={183} s={SMALL}>Hinta/kirjanpitoarvo (P/B, oik.)</Txt>
      <Swatch x={703} y={169} c={GREEN} w={13} />
      <Txt x={718} y={169} s={SMALL}>Yritysarvo/käyttökate (EV/EBITDA)</Txt>
      <Swatch x={703} y={183} c={MAGENTA} w={13} />
      <Txt x={718} y={183} s={SMALL}>Hinta/liikevaihto (P/S, oik.)</Txt>
      <Txt x={514} y={199} s={SMALL}>Suhdeluku</Txt>
      <Txt r={919} y={203} s={SMALL}>Suhdeluku</Txt>
      <Txt x={514} y={431} s={SMALL}>*MSCI Finland -osakeindeksi</Txt>
      <Txt x={514} y={442} s={SMALL}>Lähde: Bloomberg.</Txt>

      {/* left text */}
      <Txt x={20} y={449} s={20.4} b c={TITLE_BLUE}>Volatiliteetin kasvu pysähtyi</Txt>
      {leftBody.map((t, i) => (
        <Txt key={t} x={i === 6 ? 49 : 20} y={496 + 35 * i} s={BODY} c={INK}>
          {t}
        </Txt>
      ))}

      {/* right text */}
      <Txt x={492} y={488} s={20.4} b c={TITLE_BLUE}>Rahoitusmarkkinoiden stressi-indeksissä ei</Txt>
      <Txt x={492} y={523} s={20.4} b c={TITLE_BLUE}>hälyttävää kehitystä</Txt>
      {rightBody.map((t, i) => (
        <Txt key={t} x={492} y={570 + 35 * i} s={BODY} c={INK}>
          {t}
        </Txt>
      ))}
      <Txt x={492} y={874} s={HEAD} c={TITLE_BLUE}>Kuvio 14. Suomen rahoitusmarkkinoiden stressi-in-</Txt>
      <Txt x={492} y={895} s={HEAD} c={TITLE_BLUE}>deksi</Txt>

      {/* Kuvio 12 */}
      <Txt x={20} y={941} s={HEAD} c={TITLE_BLUE}>Kuvio 12. Suuririskisten yritysjoukkolainojen riskilisä ja</Txt>
      <Txt x={20} y={962} s={HEAD} c={TITLE_BLUE}>osakemarkkinoiden volatiliteetti</Txt>
      <ChartBox left={0} top={1019} width={480} height={216} build={buildK12} />
      <Swatch x={53} y={1001} c={BLUE} w={13} />
      <Txt x={67} y={1001} s={SMALL}>Suuririskisten euromääräisten yritysjoukkolainojen riskilisä</Txt>
      <Swatch x={53} y={1015} c={GREEN} w={13} />
      <Txt x={67} y={1015} s={SMALL}>Euroopan osakemarkkinoiden implisiittinen volatiliteetti (VSTOXX, oik.)</Txt>
      <Txt x={53} y={1029} s={SMALL}>Korkopistettä</Txt>
      <Txt r={442} y={1029} s={SMALL}>%</Txt>
      <Txt x={53} y={1251} s={SMALL}>Lähde: Bloomberg ja Bank of America Merrill Lynch.</Txt>

      {/* Kuvio 14 */}
      <ChartBox left={490} top={954} width={460} height={246} build={buildK14} />
      <Swatch x={516} y={934} c={BLUE} w={13} />
      <Txt x={530} y={934} s={SMALL}>Rahoitusmarkkinoiden stressi-indeksi</Txt>
      <Txt x={516} y={961} s={SMALL}>Keskihajonta</Txt>
      <Tag cx={602.7} y={981} lines={["Suomen", "pankkikriisi"]} />
      <Tag cx={690} y={1026} lines={["IT-kupla"]} />
      <Tag cx={772.7} y={981.7} lines={["Subrime-", "kriisi"]} />
      <Tag cx={858.3} y={979.3} lines={["Euroopan", "velkakriisi"]} />
      <Txt x={516} y={1208} s={SMALL}>Lähteet: Bloomberg, Datastream, Suomen Pankki ja omat laskelmat.</Txt>

      {rightBottom.map((t, i) => (
        <Txt key={t} x={492} y={1242 + 35 * i} s={BODY} c={INK}>
          {t}
        </Txt>
      ))}

      {/* footer */}
      <Txt x={840} y={1439} s={16} c="#222">1 • 2016</Txt>
      <Txt x={930} y={1437} s={19} b c={TITLE_BLUE}>13</Txt>
    </div>
  );
}
